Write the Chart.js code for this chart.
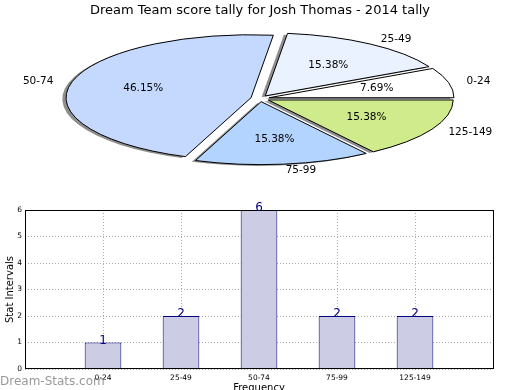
<!DOCTYPE html>
<html>
<head>
<meta charset="utf-8">
<script src="https://cdn.jsdelivr.net/npm/chart.js@4.4.1/dist/chart.umd.min.js"></script>
<style>
    html, body { margin: 0; padding: 0; background: #fff; overflow: hidden; width: 520px; height: 390px; }
    #pie { position: absolute; left: 0; top: 0; }
    #bar { position: absolute; left: 0; top: 195px; }
</style>
</head>
<body>
<canvas id="pie" width="520" height="195"></canvas>
<canvas id="bar" width="520" height="205"></canvas>
<script>
"use strict";

const chartTitle = 'Dream Team score tally for Josh Thomas - 2014 tally';
const categories = ['0-24', '25-49', '50-74', '75-99', '125-149'];
const counts = [1, 2, 6, 2, 2];
const yMin = 0;
const yMax = 6;

const pieColors = ['#ffffff', '#eaf1ff', '#c5d9ff', '#b3d4ff', '#d0eb8c'];
const explode = [0.05, 0.05, 0.05, 0.05, 0.05];

const FONT = "'DejaVu Sans', sans-serif";
const total = counts.reduce((a, b) => a + b, 0);

// chart.js goes clockwise from 3 o'clock, the original goes anticlockwise
const order = categories.map((c, i) => i).reverse();

const SQUASH = 63 / 185;   // ellipse height / width

/**
 * squashed, exploded pie with shadows
 */
const wedgePath = (ctx, arc, cx, cy) => {
    const r = arc.outerRadius;
    ctx.beginPath();
    ctx.moveTo(cx, cy);
    ctx.ellipse(cx, cy, r, r * SQUASH, 0, arc.startAngle, arc.endAngle);
    ctx.closePath();
};

const shiftOf = (arc, i) => {
    const mid = (arc.startAngle + arc.endAngle) / 2;
    const e = explode[order[i]] * arc.outerRadius;
    return { mid, dx: Math.cos(mid) * e, dy: Math.sin(mid) * e * SQUASH };
};

const ellipsePie = {
    id: 'ellipsePie',
    beforeDatasetsDraw(chart) {
        const ctx = chart.ctx;
        const arcs = chart.getDatasetMeta(0).data;

        // shadows first, under everything
        arcs.forEach((arc, i) => {
            const s = shiftOf(arc, i);
            const r = arc.outerRadius;
            ctx.save();
            ctx.fillStyle = 'rgba(50, 50, 50, 0.55)';
            wedgePath(ctx, arc, arc.x + s.dx - 0.02 * r, arc.y + s.dy + 0.02 * r * SQUASH);
            ctx.fill();
            ctx.restore();
        });

        arcs.forEach((arc, i) => {
            const s = shiftOf(arc, i);
            ctx.save();
            ctx.translate(arc.x + s.dx, arc.y + s.dy);
            ctx.scale(1, SQUASH);
            ctx.translate(-arc.x, -arc.y);
            arc.draw(ctx);
            ctx.restore();

            ctx.save();
            ctx.lineWidth = 1;
            ctx.strokeStyle = '#000';
            wedgePath(ctx, arc, arc.x + s.dx, arc.y + s.dy);
            ctx.stroke();
            ctx.restore();
        });
        return false;
    },
    afterDraw(chart) {
        const ctx = chart.ctx;
        const arcs = chart.getDatasetMeta(0).data;
        ctx.save();
        ctx.font = '10.5px ' + FONT;
        ctx.fillStyle = '#000';
        ctx.textBaseline = 'middle';
        arcs.forEach((arc, i) => {
            const s = shiftOf(arc, i);
            const r = arc.outerRadius;
            const cx = arc.x + s.dx;
            const cy = arc.y + s.dy;
            const c = Math.cos(s.mid);
            const sn = Math.sin(s.mid);

            // category name outside
            ctx.textAlign = c > 0.001 ? 'left' : (c < -0.001 ? 'right' : 'center');
            ctx.fillText(categories[order[i]], cx + 1.1 * r * c, cy + 1.1 * r * sn * SQUASH);

            // percentage inside
            const pct = (counts[order[i]] / total * 100).toFixed(2) + '%';
            ctx.textAlign = 'center';
            ctx.fillText(pct, cx + 0.6 * r * c, cy + 0.6 * r * sn * SQUASH);
        });
        ctx.restore();
    }
};

const pieChart = new Chart(document.getElementById('pie'), {
    type: 'pie',
    data: {
        labels: order.map(i => categories[i]),
        datasets: [{
            data: order.map(i => counts[i]),
            backgroundColor: order.map(i => pieColors[i]),
            borderWidth: 0,
            rotation: 90,
            radius: 185,
        }]
    },
    options: {
        responsive: false,
        animation: false,
        events: [],
        layout: {
            padding: { left: 0, right: 0, top: 0, bottom: 16.6 }
        },
        plugins: {
            legend: { display: false },
            tooltip: { enabled: false },
            title: {
                display: true,
                text: chartTitle,
                color: '#000',
                font: { family: FONT, size: 13, weight: 'normal' },
                padding: { top: 3, bottom: 0 },
            },
        },
    },
    plugins: [ellipsePie],
});

/**
 * bar chart: frame, value labels, watermark
 */
const barExtras = {
    id: 'barExtras',
    afterDraw(chart) {
        const ctx = chart.ctx;
        const a = chart.chartArea;

        ctx.save();
        ctx.strokeStyle = '#000';
        ctx.lineWidth = 1;
        ctx.strokeRect(a.left + 0.5, a.top + 0.5, a.right - a.left, a.bottom - a.top - 1);

        ctx.font = '12px ' + FONT;
        ctx.fillStyle = '#000080';
        ctx.textAlign = 'center';
        ctx.textBaseline = 'alphabetic';
        chart.getDatasetMeta(0).data.forEach((bar, i) => {
            ctx.fillText(String(counts[i]), bar.x, bar.y + 1);
        });

        ctx.font = '12px ' + FONT;
        ctx.fillStyle = '#999';
        ctx.textAlign = 'left';
        ctx.fillText('Dream-Stats.com', 0, 189.5);
        ctx.restore();
    }
};

const tickFont = { family: FONT, size: 7.5 };

const barChart = new Chart(document.getElementById('bar'), {
    type: 'bar',
    data: {
        datasets: [{
            data: counts.map((v, i) => ({ x: i, y: v })),
            backgroundColor: '#ccccE5',
            borderColor: '#000080',
            borderWidth: 1,
            barPercentage: 0.47,
            categoryPercentage: 1,
        }]
    },
    options: {
        responsive: false,
        animation: false,
        events: [],
        layout: {
            padding: { left: 0, right: 27, top: 15, bottom: 0 }
        },
        plugins: {
            legend: { display: false },
            tooltip: { enabled: false },
        },
        scales: {
            x: {
                type: 'linear',
                min: -1,
                max: categories.length,
                offset: false,
                z: 1,
                ticks: {
                    stepSize: 1,
                    autoSkip: false,
                    maxRotation: 0,
                    padding: 5,
                    color: '#000',
                    font: tickFont,
                    callback: v => categories[v] ?? '',
                },
                grid: { color: '#aaaaaa', drawTicks: false, offset: false },
                border: { display: false, dash: [1, 2] },
                title: {
                    display: true,
                    text: 'Frequency',
                    color: '#000',
                    font: { family: FONT, size: 10 },
                    padding: { top: 0, bottom: 6 },
                },
                afterFit: s => { s.height = 31; },
            },
            y: {
                min: yMin,
                max: yMax,
                z: 1,
                ticks: {
                    stepSize: 1,
                    padding: 3,
                    color: '#000',
                    font: tickFont,
                },
                grid: { color: '#aaaaaa', drawTicks: false },
                border: { display: false, dash: [1, 2] },
                title: {
                    display: true,
                    text: 'Stat Intervals',
                    color: '#000',
                    font: { family: FONT, size: 10 },
                    padding: { top: 4, bottom: 0 },
                },
                afterFit: s => { s.width = 25; },
            },
        },
    },
    plugins: [barExtras],
});
</script>
</body>
</html>
